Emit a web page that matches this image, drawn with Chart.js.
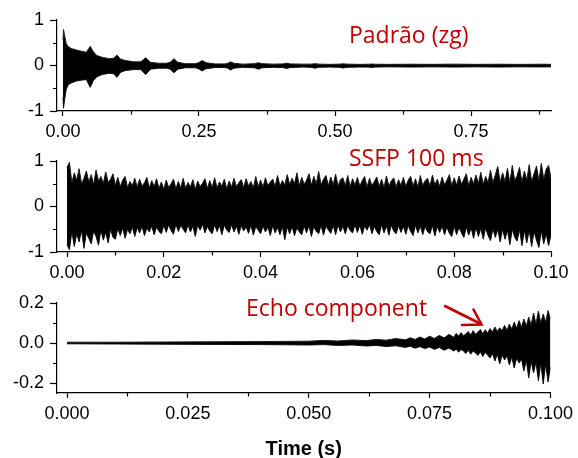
<!DOCTYPE html>
<html>
<head>
<meta charset="utf-8">
<script src="https://cdn.jsdelivr.net/npm/chart.js@4/dist/chart.umd.min.js"></script>
<style>
	html, body { margin: 0; padding: 0; background: #fff; }
	#wrap { position: relative; width: 578px; height: 458px; overflow: hidden; }
	canvas { position: absolute; left: 0; }
	.note { position: absolute; font-family: "Open Sans", sans-serif; font-size: 23px; line-height: 23px; color: #C00000; white-space: nowrap; }
	svg { position: absolute; left: 0; top: 0; }
</style>
</head>
<body>
<div id="wrap">
	<canvas id="fid" width="578" height="142" style="top:0px"></canvas>
	<canvas id="ssfp" width="578" height="142" style="top:141px"></canvas>
	<canvas id="echo" width="578" height="175" style="top:283px"></canvas>
	<div class="note" style="left:349px;top:23px">Padrão (zg)</div>
	<div class="note" style="left:349px;top:146px">SSFP 100 ms</div>
	<div class="note" style="left:246px;top:296px">Echo component</div>
	<svg width="578" height="458">
		<g stroke="#C00000" stroke-width="2.6" fill="none" stroke-linecap="round" stroke-linejoin="miter">
			<line x1="445" y1="306" x2="481" y2="324"></line>
			<polyline points="462,325 481.5,324.5 473.5,309.5"></polyline>
		</g>
	</svg>
</div>
<script>
// top panel: standard FID (envelope)
var fidTime = [0.000, 0.001, 0.003, 0.006, 0.010, 0.016, 0.025, 0.035, 0.043, 0.050, 0.056, 0.062, 0.072, 0.085, 0.093, 0.099, 0.106, 0.115, 0.130, 0.143, 0.152, 0.161, 0.175, 0.190, 0.197, 0.204, 0.211, 0.225, 0.243, 0.249, 0.256, 0.263, 0.280, 0.298, 0.303, 0.308, 0.314, 0.330, 0.352, 0.359, 0.366, 0.385, 0.404, 0.411, 0.418, 0.440, 0.456, 0.463, 0.470, 0.490, 0.508, 0.515, 0.522, 0.545, 0.561, 0.567, 0.573, 0.600, 0.640, 0.680, 0.720, 0.760, 0.800, 0.840, 0.880, 0.897];
var fidUpper = [0.55, 0.79, 0.66, 0.48, 0.41, 0.37, 0.34, 0.31, 0.29, 0.42, 0.30, 0.22, 0.18, 0.15, 0.16, 0.23, 0.14, 0.11, 0.08, 0.08, 0.17, 0.07, 0.05, 0.05, 0.07, 0.15, 0.07, 0.04, 0.04, 0.06, 0.11, 0.06, 0.035, 0.035, 0.05, 0.08, 0.05, 0.03, 0.04, 0.06, 0.04, 0.03, 0.035, 0.05, 0.035, 0.03, 0.03, 0.04, 0.03, 0.025, 0.03, 0.037, 0.03, 0.025, 0.028, 0.032, 0.028, 0.025, 0.028, 0.025, 0.03, 0.025, 0.028, 0.025, 0.028, 0.025];
var fidLower = [-0.70, -0.94, -0.75, -0.52, -0.42, -0.38, -0.34, -0.32, -0.31, -0.48, -0.33, -0.25, -0.20, -0.17, -0.18, -0.26, -0.15, -0.11, -0.09, -0.09, -0.20, -0.08, -0.06, -0.06, -0.08, -0.16, -0.08, -0.05, -0.05, -0.07, -0.12, -0.07, -0.045, -0.045, -0.06, -0.10, -0.06, -0.04, -0.05, -0.08, -0.05, -0.04, -0.045, -0.065, -0.045, -0.035, -0.04, -0.06, -0.04, -0.035, -0.04, -0.055, -0.04, -0.035, -0.035, -0.045, -0.035, -0.03, -0.035, -0.03, -0.035, -0.03, -0.035, -0.03, -0.032, -0.03];
var fidXTicks = [0, 0.25, 0.5, 0.75];
var fidXLabels = ["0.00", "0.25", "0.50", "0.75"];
var fidXMinor = [0.125, 0.375, 0.625, 0.875];
var fidYTicks = [-1, 0, 1];
var fidYLabels = ["-1", "0", "1"];
var fidYMinor = [-0.5, 0.5];

// middle panel: SSFP 100 ms (peak envelope, every 0.5 ms)
var ssfpTime = [
	0.0000, 0.0005, 0.0010, 0.0015, 0.0020, 0.0025, 0.0030, 0.0035, 0.0040, 0.0045,
	0.0050, 0.0055, 0.0060, 0.0065, 0.0070, 0.0075, 0.0080, 0.0085, 0.0090, 0.0095,
	0.0100, 0.0105, 0.0110, 0.0115, 0.0120, 0.0125, 0.0130, 0.0135, 0.0140, 0.0145,
	0.0150, 0.0155, 0.0160, 0.0165, 0.0170, 0.0175, 0.0180, 0.0185, 0.0190, 0.0195,
	0.0200, 0.0205, 0.0210, 0.0215, 0.0220, 0.0225, 0.0230, 0.0235, 0.0240, 0.0245,
	0.0250, 0.0255, 0.0260, 0.0265, 0.0270, 0.0275, 0.0280, 0.0285, 0.0290, 0.0295,
	0.0300, 0.0305, 0.0310, 0.0315, 0.0320, 0.0325, 0.0330, 0.0335, 0.0340, 0.0345,
	0.0350, 0.0355, 0.0360, 0.0365, 0.0370, 0.0375, 0.0380, 0.0385, 0.0390, 0.0395,
	0.0400, 0.0405, 0.0410, 0.0415, 0.0420, 0.0425, 0.0430, 0.0435, 0.0440, 0.0445,
	0.0450, 0.0455, 0.0460, 0.0465, 0.0470, 0.0475, 0.0480, 0.0485, 0.0490, 0.0495,
	0.0500, 0.0505, 0.0510, 0.0515, 0.0520, 0.0525, 0.0530, 0.0535, 0.0540, 0.0545,
	0.0550, 0.0555, 0.0560, 0.0565, 0.0570, 0.0575, 0.0580, 0.0585, 0.0590, 0.0595,
	0.0600, 0.0605, 0.0610, 0.0615, 0.0620, 0.0625, 0.0630, 0.0635, 0.0640, 0.0645,
	0.0650, 0.0655, 0.0660, 0.0665, 0.0670, 0.0675, 0.0680, 0.0685, 0.0690, 0.0695,
	0.0700, 0.0705, 0.0710, 0.0715, 0.0720, 0.0725, 0.0730, 0.0735, 0.0740, 0.0745,
	0.0750, 0.0755, 0.0760, 0.0765, 0.0770, 0.0775, 0.0780, 0.0785, 0.0790, 0.0795,
	0.0800, 0.0805, 0.0810, 0.0815, 0.0820, 0.0825, 0.0830, 0.0835, 0.0840, 0.0845,
	0.0850, 0.0855, 0.0860, 0.0865, 0.0870, 0.0875, 0.0880, 0.0885, 0.0890, 0.0895,
	0.0900, 0.0905, 0.0910, 0.0915, 0.0920, 0.0925, 0.0930, 0.0935, 0.0940, 0.0945,
	0.0950, 0.0955, 0.0960, 0.0965, 0.0970, 0.0975, 0.0980, 0.0985, 0.0990, 0.0995,
	0.1000];
var ssfpUpper = [
	0.86, 0.97, 0.52, 0.74, 0.58, 0.83, 0.50, 0.62, 0.78, 0.54,
	0.70, 0.49, 0.80, 0.56, 0.66, 0.51, 0.76, 0.53, 0.60, 0.72,
	0.47, 0.64, 0.44, 0.58, 0.66, 0.42, 0.55, 0.46, 0.62, 0.43,
	0.60, 0.45, 0.52, 0.64, 0.41, 0.57, 0.44, 0.61, 0.40, 0.54,
	0.38, 0.58, 0.42, 0.50, 0.60, 0.39, 0.55, 0.41, 0.62, 0.40,
	0.53, 0.43, 0.59, 0.38, 0.56, 0.44, 0.51, 0.61, 0.40, 0.57,
	0.42, 0.63, 0.41, 0.54, 0.45, 0.60, 0.39, 0.56, 0.43, 0.62,
	0.44, 0.52, 0.59, 0.42, 0.61, 0.45, 0.55, 0.41, 0.66, 0.44,
	0.58, 0.43, 0.63, 0.46, 0.54, 0.60, 0.44, 0.68, 0.45, 0.57,
	0.47, 0.70, 0.48, 0.62, 0.50, 0.74, 0.46, 0.64, 0.49, 0.58,
	0.72, 0.47, 0.66, 0.50, 0.77, 0.48, 0.60, 0.68, 0.46, 0.65,
	0.48, 0.71, 0.45, 0.59, 0.63, 0.46, 0.68, 0.44, 0.61, 0.47,
	0.64, 0.45, 0.57, 0.66, 0.43, 0.62, 0.46, 0.55, 0.65, 0.44,
	0.60, 0.42, 0.67, 0.45, 0.56, 0.63, 0.43, 0.59, 0.46, 0.64,
	0.44, 0.58, 0.66, 0.45, 0.61, 0.43, 0.68, 0.46, 0.57, 0.62,
	0.45, 0.69, 0.47, 0.60, 0.44, 0.65, 0.48, 0.58, 0.70, 0.46,
	0.63, 0.47, 0.67, 0.49, 0.60, 0.72, 0.46, 0.64, 0.50, 0.69,
	0.51, 0.75, 0.49, 0.66, 0.53, 0.80, 0.52, 0.70, 0.88, 0.54,
	0.74, 0.55, 0.84, 0.52, 0.90, 0.57, 0.68, 0.86, 0.54, 0.78,
	0.58, 0.92, 0.55, 0.72, 0.89, 0.56, 0.95, 0.60, 0.82, 0.90,
	0.62];
var ssfpLower = [
	-0.84, -0.95, -0.55, -0.88, -0.60, -0.78, -0.52, -0.92, -0.58, -0.70,
	-0.82, -0.54, -0.66, -0.85, -0.52, -0.74, -0.57, -0.80, -0.50, -0.68,
	-0.72, -0.48, -0.64, -0.47, -0.70, -0.50, -0.60, -0.45, -0.66, -0.46,
	-0.58, -0.44, -0.64, -0.47, -0.56, -0.43, -0.62, -0.45, -0.55, -0.60,
	-0.41, -0.57, -0.40, -0.53, -0.61, -0.39, -0.55, -0.42, -0.50, -0.58,
	-0.40, -0.56, -0.43, -0.66, -0.41, -0.52, -0.39, -0.58, -0.44, -0.54,
	-0.60, -0.40, -0.55, -0.42, -0.62, -0.41, -0.52, -0.57, -0.40, -0.56,
	-0.43, -0.61, -0.42, -0.54, -0.45, -0.59, -0.41, -0.63, -0.44, -0.52,
	-0.60, -0.43, -0.56, -0.45, -0.64, -0.42, -0.58, -0.46, -0.62, -0.44,
	-0.73, -0.45, -0.60, -0.44, -0.64, -0.47, -0.56, -0.62, -0.43, -0.58,
	-0.42, -0.66, -0.44, -0.55, -0.60, -0.41, -0.63, -0.43, -0.52, -0.59,
	-0.41, -0.62, -0.40, -0.56, -0.43, -0.60, -0.42, -0.53, -0.58, -0.40,
	-0.57, -0.41, -0.61, -0.43, -0.52, -0.40, -0.60, -0.44, -0.55, -0.62,
	-0.40, -0.58, -0.42, -0.63, -0.41, -0.54, -0.60, -0.42, -0.57, -0.43,
	-0.61, -0.42, -0.55, -0.64, -0.41, -0.58, -0.43, -0.62, -0.44, -0.56,
	-0.60, -0.42, -0.65, -0.44, -0.57, -0.43, -0.62, -0.45, -0.59, -0.66,
	-0.44, -0.62, -0.46, -0.58, -0.68, -0.45, -0.63, -0.47, -0.70, -0.46,
	-0.66, -0.48, -0.72, -0.47, -0.64, -0.75, -0.49, -0.68, -0.50, -0.78,
	-0.50, -0.72, -0.52, -0.84, -0.50, -0.68, -0.76, -0.51, -0.86, -0.53,
	-0.80, -0.52, -0.88, -0.55, -0.74, -0.90, -0.53, -0.82, -0.60, -0.86,
	-0.62];
var ssfpXTicks = [0, 0.02, 0.04, 0.06, 0.08, 0.1];
var ssfpXLabels = ["0.00", "0.02", "0.04", "0.06", "0.08", "0.10"];
var ssfpXMinor = [0.01, 0.03, 0.05, 0.07, 0.09];
var ssfpYTicks = [-1, 0, 1];
var ssfpYLabels = ["-1", "0", "1"];
var ssfpYMinor = [-0.5, 0.5];

// bottom panel: echo component
var echoTime = [0.000, 0.010, 0.020, 0.030, 0.040, 0.045, 0.050, 0.053, 0.056, 0.059, 0.062, 0.064, 0.066, 0.068, 0.070,
	0.071, 0.072, 0.073, 0.074, 0.075, 0.076, 0.077, 0.078, 0.079, 0.080,
	0.0805, 0.0810, 0.0815, 0.0820, 0.0825, 0.0830, 0.0835, 0.0840, 0.0845, 0.0850,
	0.0855, 0.0860, 0.0865, 0.0870, 0.0875, 0.0880, 0.0885, 0.0890, 0.0895, 0.0900,
	0.0905, 0.0910, 0.0915, 0.0920, 0.0925, 0.0930, 0.0935, 0.0940, 0.0945, 0.0950,
	0.0955, 0.0960, 0.0965, 0.0970, 0.0975, 0.0980, 0.0985, 0.0990, 0.0995, 0.1000];
var echoUpper = [0.004, 0.004, 0.005, 0.006, 0.007, 0.008, 0.009, 0.013, 0.010, 0.015, 0.012, 0.018, 0.014, 0.022, 0.016,
	0.026, 0.018, 0.030, 0.020, 0.034, 0.023, 0.038, 0.026, 0.043, 0.029,
	0.048, 0.034, 0.052, 0.036, 0.046, 0.058, 0.040, 0.062, 0.044, 0.055,
	0.068, 0.046, 0.066, 0.050, 0.072, 0.055, 0.080, 0.058, 0.076, 0.062,
	0.088, 0.064, 0.095, 0.070, 0.105, 0.074, 0.112, 0.080, 0.120, 0.085,
	0.130, 0.090, 0.150, 0.095, 0.160, 0.100, 0.145, 0.105, 0.162, 0.120];
var echoLower = [-0.004, -0.005, -0.006, -0.007, -0.008, -0.009, -0.010, -0.008, -0.012, -0.010, -0.015, -0.012, -0.018, -0.014, -0.022,
	-0.016, -0.026, -0.018, -0.028, -0.020, -0.032, -0.022, -0.036, -0.025, -0.040,
	-0.030, -0.046, -0.032, -0.040, -0.052, -0.036, -0.056, -0.040, -0.050, -0.062,
	-0.044, -0.068, -0.048, -0.060, -0.075, -0.052, -0.090, -0.056, -0.105, -0.060,
	-0.085, -0.064, -0.110, -0.070, -0.125, -0.075, -0.100, -0.080, -0.140, -0.085,
	-0.175, -0.090, -0.150, -0.095, -0.190, -0.100, -0.205, -0.105, -0.195, -0.120];
var echoXTicks = [0, 0.025, 0.05, 0.075, 0.1];
var echoXLabels = ["0.000", "0.025", "0.050", "0.075", "0.100"];
var echoXMinor = [0.0125, 0.0375, 0.0625, 0.0875];
var echoYTicks = [-0.2, 0, 0.2];
var echoYLabels = ["-0.2", "0.0", "0.2"];
var echoYMinor = [-0.1, 0.1];

var tickFont = { family: "'Liberation Sans', Arial, sans-serif", size: 18 };

// short minor ticks, placed with the chart's own scales
var minorTicks = {
	id: "minorTicks",
	afterDraw: function (chart, args, opts) {
		var ctx = chart.ctx;
		var area = chart.chartArea;
		ctx.save();
		ctx.strokeStyle = "#000";
		ctx.lineWidth = 1.2;
		ctx.beginPath();
		(opts.x || []).forEach(function (v) {
			var px = Math.round(chart.scales.x.getPixelForValue(v)) + 0.5;
			ctx.moveTo(px, area.bottom);
			ctx.lineTo(px, area.bottom + 3.5);
		});
		(opts.y || []).forEach(function (v) {
			var py = Math.round(chart.scales.y.getPixelForValue(v)) + 0.5;
			ctx.moveTo(area.left - 4, py);
			ctx.lineTo(area.left, py);
		});
		ctx.stroke();
		ctx.restore();
	}
};

function points(xs, ys) {
	return xs.map(function (x, i) { return { x: x, y: ys[i] }; });
}

function panel(id, p) {
	var context = document.getElementById(id).getContext("2d");
	var xAxis = {
		type: "linear",
		bounds: "data",
		min: p.xMin,
		max: p.xMax,
		afterBuildTicks: function (scale) { scale.ticks = p.xTicks.map(function (v) { return { value: v }; }); },
		afterFit: function (scale) { scale.height = p.xHeight; },
		ticks: {
			callback: function (v, i) { return p.xLabels[i]; },
			font: tickFont,
			color: "#000",
			padding: 5,
			maxRotation: 0,
			autoSkip: false
		},
		grid: { drawOnChartArea: false, tickLength: 5, tickColor: "#000", tickWidth: 1.2 },
		border: { color: "#000", width: 1.2 }
	};
	if (p.title) {
		xAxis.title = {
			display: true,
			text: p.title,
			color: "#000",
			font: { family: "'Liberation Sans', Arial, sans-serif", size: 20, weight: "bold", lineHeight: 1 },
			padding: { top: 0, bottom: -1 }
		};
	}
	return new Chart(context, {
		type: "line",
		data: {
			datasets: [{
				label: "upper",
				data: points(p.time, p.upper),
				borderColor: "#1a1a1a",
				backgroundColor: "#000",
				borderWidth: 1,
				pointRadius: 0,
				fill: "+1"
			},
			{
				label: "lower",
				data: points(p.time, p.lower),
				borderColor: "#1a1a1a",
				backgroundColor: "#000",
				borderWidth: 1,
				pointRadius: 0,
				fill: false
			}]
		},
		options: {
			responsive: false,
			animation: false,
			devicePixelRatio: 1,
			layout: { padding: { top: 20, right: 27, left: 0, bottom: 0 } },
			plugins: {
				legend: { display: false },
				tooltip: { enabled: false },
				minorTicks: { x: p.xMinor, y: p.yMinor }
			},
			scales: {
				x: xAxis,
				y: {
					type: "linear",
					bounds: "data",
					min: p.yMin,
					max: p.yMax,
					afterBuildTicks: function (scale) { scale.ticks = p.yTicks.map(function (v) { return { value: v }; }); },
					afterFit: function (scale) { scale.width = 57; },
					ticks: {
						callback: function (v, i) { return p.yLabels[i]; },
						font: tickFont,
						color: "#000",
						padding: 6
					},
					grid: { drawOnChartArea: false, tickLength: 7, tickColor: "#000", tickWidth: 1.2 },
					border: { color: "#000", width: 1.2 }
				}
			}
		},
		plugins: [minorTicks]
	});
}

panel("fid", {
	time: fidTime, upper: fidUpper, lower: fidLower,
	xMin: -0.011, xMax: 0.897, xTicks: fidXTicks, xLabels: fidXLabels, xMinor: fidXMinor,
	yMin: -1, yMax: 1, yTicks: fidYTicks, yLabels: fidYLabels, yMinor: fidYMinor,
	xHeight: 31
});

panel("ssfp", {
	time: ssfpTime, upper: ssfpUpper, lower: ssfpLower,
	xMin: -0.00207, xMax: 0.1, xTicks: ssfpXTicks, xLabels: ssfpXLabels, xMinor: ssfpXMinor,
	yMin: -1, yMax: 1, yTicks: ssfpYTicks, yLabels: ssfpYLabels, yMinor: ssfpYMinor,
	xHeight: 31
});

panel("echo", {
	time: echoTime, upper: echoUpper, lower: echoLower,
	xMin: -0.00207, xMax: 0.1, xTicks: echoXTicks, xLabels: echoXLabels, xMinor: echoXMinor,
	yMin: -0.25, yMax: 0.2, yTicks: echoYTicks, yLabels: echoYLabels, yMinor: echoYMinor,
	xHeight: 65, title: "Time (s)"
});
</script>
</body>
</html>
